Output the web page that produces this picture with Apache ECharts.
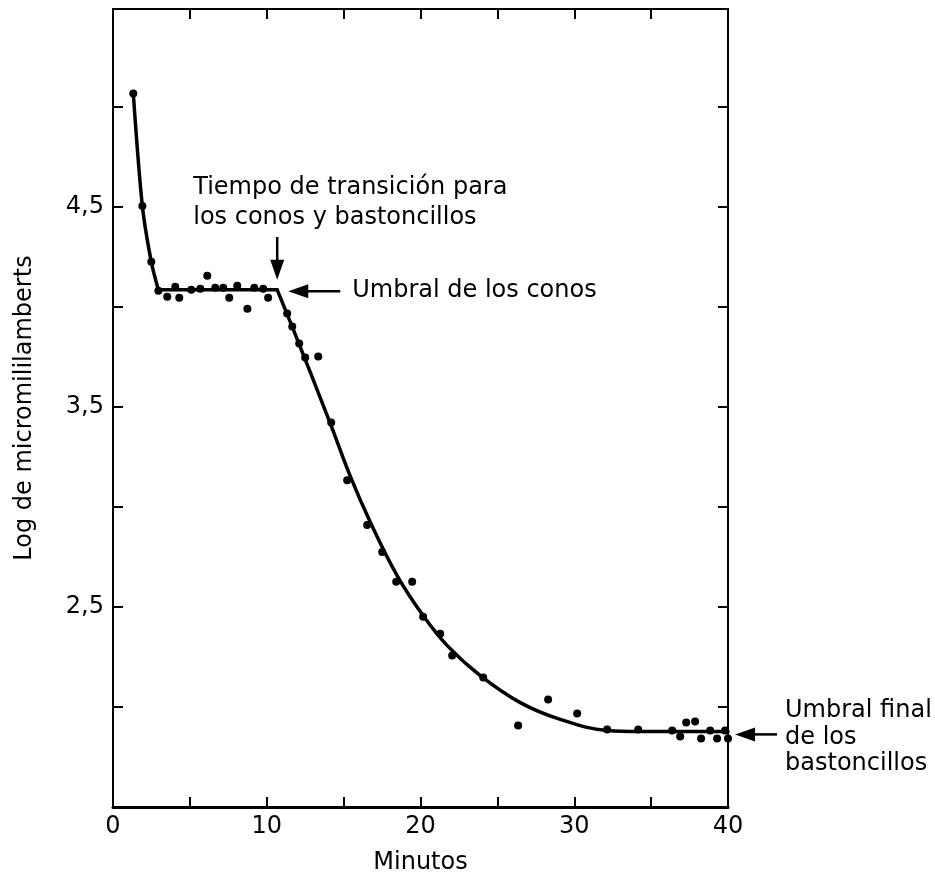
<!DOCTYPE html>
<html>
<head>
<meta charset="utf-8">
<script src="https://cdn.jsdelivr.net/npm/echarts@6/dist/echarts.min.js"></script>
<style>
html,body{margin:0;padding:0;background:#fff;}
#c{width:935px;height:880px;}
</style>
</head>
<body>
<div id="c"></div>
<script>
// ---- Data ----
const dotMinutes = [1.32,1.91,2.49,2.95,3.53,4.05,4.31,5.09,5.68,6.13,6.65,7.17,7.56,8.08,8.74,9.19,9.77,10.09,
  11.33,11.66,12.11,12.50,13.35,14.19,15.23,16.53,17.51,18.42,19.46,20.17,21.28,22.06,24.08,26.35,28.30,30.19,
  32.14,34.16,36.37,36.89,37.28,37.86,38.25,38.84,39.29,39.81,40.0];
const dotLogThreshold = [5.068,4.505,4.226,4.081,4.051,4.101,4.046,4.086,4.091,4.156,4.096,4.096,4.046,4.106,3.991,4.096,4.091,4.046,
  3.967,3.902,3.817,3.747,3.752,3.423,3.134,2.910,2.775,2.626,2.626,2.451,2.366,2.257,2.147,1.908,2.037,1.968,
  1.888,1.888,1.883,1.853,1.923,1.928,1.843,1.883,1.843,1.883,1.843];

// fitted curve: cone branch (steep), cone plateau, rod branch
const coneDropMinutes = [1.32,1.91,2.49,2.95];
const coneDropValues  = [5.068,4.505,4.226,4.086];
const conePlateauMinutes = [2.95,10.68];
const conePlateauValues  = [4.086,4.086];
const rodMinutes = [10.68,11.73,14.13,15.43,16.73,18.49,20.18,21.74,23.89,26.49,29.09,32.14,34.28,40.0];
const rodValues  = [4.086,3.887,3.418,3.154,2.925,2.656,2.456,2.307,2.157,2.022,1.938,1.883,1.878,1.878];

const xLabelValues = [0,10,20,30,40];
const yLabelValues = [2.5,3.5,4.5];

const xName = 'Minutos';
const yName = 'Log de micromililamberts';
const noteTransition = 'Tiempo de transición para\nlos conos y bastoncillos';
const noteCone = 'Umbral de los conos';
const noteRod = 'Umbral final\nde los\nbastoncillos';

// ---- Chart ----
const FONT = '"DejaVu Sans", sans-serif';
const INK = '#000';
const zip = (a,b) => a.map((v,i)=>[v,b[i]]);

const chart = echarts.init(document.getElementById('c'), null, {renderer:'canvas'});

const baseTick = {show:true, inside:true, length:10, lineStyle:{color:'#000', width:2}};
const curveStyle = {color:'#000', width:3.5, cap:'round', join:'round'};
const opt = {
  animation:false,
  backgroundColor:'#fff',
  grid:{left:113, right:207, top:9, bottom:71, containLabel:false},
  xAxis:[{
    type:'value', min:0, max:40, interval:5, position:'bottom',
    axisLine:{show:true, onZero:false, lineStyle:{color:'#000', width:3}},
    axisTick:baseTick,
    splitLine:{show:false},
    axisLabel:{show:true, margin:8, color:INK, fontFamily:FONT, fontSize:24,
      formatter:v => xLabelValues.includes(v) ? String(v) : ''},
    name:xName, nameLocation:'middle', nameGap:44,
    nameTextStyle:{color:INK, fontFamily:FONT, fontSize:24}
  },{
    type:'value', min:0, max:40, interval:5, position:'top',
    axisLine:{show:true, onZero:false, lineStyle:{color:'#000', width:2}},
    axisTick:baseTick, splitLine:{show:false}, axisLabel:{show:false}
  }],
  yAxis:[{
    type:'value', min:1.5, max:5.49, interval:0.5, position:'left',
    axisLine:{show:true, onZero:false, lineStyle:{color:'#000', width:2}},
    axisTick:baseTick, splitLine:{show:false},
    axisLabel:{show:true, margin:9, color:INK, fontFamily:FONT, fontSize:24,
      formatter:v => yLabelValues.some(t=>Math.abs(t-v)<1e-6) ? String(v).replace('.',',') : ''},
    name:yName, nameLocation:'middle', nameGap:76, nameRotate:90,
    nameTextStyle:{color:INK, fontFamily:FONT, fontSize:24}
  },{
    type:'value', min:1.5, max:5.49, interval:0.5, position:'right',
    axisLine:{show:true, onZero:false, lineStyle:{color:'#000', width:2}},
    axisTick:baseTick, splitLine:{show:false}, axisLabel:{show:false}
  }],
  series:[
    {type:'line', data:zip(coneDropMinutes, coneDropValues), smooth:0.3, showSymbol:false,
     lineStyle:curveStyle, z:2},
    {type:'line', data:zip(conePlateauMinutes, conePlateauValues), showSymbol:false,
     lineStyle:curveStyle, z:2},
    {type:'line', data:zip(rodMinutes, rodValues), smooth:0.4, showSymbol:false,
     lineStyle:curveStyle, z:2},
    {type:'scatter', data:zip(dotMinutes, dotLogThreshold), symbol:'circle', symbolSize:8,
     itemStyle:{color:'#000', opacity:1}, z:3}
  ]
};
chart.setOption(opt);

// ---- Annotations placed in data space ----
const px = (x,y) => chart.convertToPixel({gridIndex:0}, [x,y]);
const g = [];
function text(str, x, y, lh){
  const p = px(x,y);
  g.push({type:'text', x:p[0], y:p[1], z:10, style:{text:str, fill:INK, font:'24px ' + FONT,
    align:'left', verticalAlign:'middle', lineHeight:lh}});
}
function arrow(x0,y0,x1,y1){
  const a = px(x0,y0), b = px(x1,y1);
  const dx=b[0]-a[0], dy=b[1]-a[1], L=Math.hypot(dx,dy), ux=dx/L, uy=dy/L;
  const headL=20, headW=7;
  const bx=b[0]-ux*headL, by=b[1]-uy*headL;
  g.push({type:'line', z:10, shape:{x1:a[0], y1:a[1], x2:bx+ux*2, y2:by+uy*2}, style:{stroke:'#000', lineWidth:2.5}});
  g.push({type:'polygon', z:10, shape:{points:[[b[0],b[1]],[bx-uy*headW,by+ux*headW],[bx+uy*headW,by-ux*headW]]},
    style:{fill:'#000'}});
}
text(noteTransition, 5.22, 4.52, 30);
arrow(10.68, 4.35, 10.68, 4.136);
text(noteCone, 15.56, 4.081, 28);
arrow(14.78, 4.079, 11.40, 4.079);
text(noteRod, 43.71, 1.848, 26.5);
arrow(43.19, 1.863, 40.46, 1.863);
chart.setOption({graphic:g});
</script>
</body>
</html>
